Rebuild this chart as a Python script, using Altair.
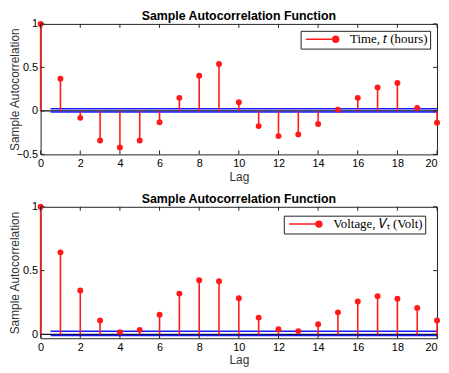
import altair as alt
import pandas as pd

# ---- data ----
lags = list(range(21))
acf_time = [1.0, 0.37, -0.08, -0.34, -0.42, -0.34, -0.13, 0.15, 0.405, 0.54, 0.10,
            -0.175, -0.29, -0.27, -0.15, 0.015, 0.15, 0.27, 0.32, 0.035, -0.135]
acf_volt = [1.0, 0.643, 0.344, 0.109, 0.018, 0.036, 0.155, 0.32, 0.424, 0.416, 0.284,
            0.132, 0.041, 0.026, 0.08, 0.173, 0.258, 0.30, 0.279, 0.207, 0.109]
x_ticks = [0, 2, 4, 6, 8, 10, 12, 14, 16, 18, 20]
y_ticks_time = [-0.5, 0, 0.5, 1]
y_ticks_volt = [0, 0.5, 1]
y_domain_time = [-0.5, 1]
y_domain_volt = [-0.03, 1]
bounds_time = [0.025, -0.012]
bounds_volt = [0.025, -0.008]
bound_start = 0.5
labels = ["Time, \U0001D461 (hours)", "Voltage, \U0001D449\u209C (Volt)"]
title_text = "Sample Autocorrelation Function"

RED = "#ff1a1a"
BLUE = "#1a1aff"
W = 401
H1 = 132
H2 = 133

# legend glyph: a line ending in a dot (unit = sqrt(size)/2 px)
LEGEND_PATH = ("M-1,0L6,0M7.25,0A0.75,0.75,0,1,1,5.75,0A0.75,0.75,0,1,1,7.25,0Z")


def panel(vals, ydom, yticks, bounds, label, H, lx, ly):
    df = pd.DataFrame({"lag": lags, "acf": vals, "series": label})
    xs = alt.Scale(domain=[0, 20], nice=False, zero=False)
    ys = alt.Scale(domain=ydom, nice=False, zero=False)
    xenc = alt.X("lag:Q", scale=xs,
                 axis=alt.Axis(values=x_ticks, title="Lag", format="d",
                               labelAlign={"condition": {"test": "datum.value == 20",
                                                         "value": "right"},
                                           "value": "center"}))
    yenc = alt.Y("acf:Q", scale=ys,
                 axis=alt.Axis(values=yticks, title="Sample Autocorrelation", format="~g",
                               titleX=-19, titleY=H / 2, titleBaseline="bottom",
                               titleAngle=270, titleAlign="center"))

    stems = alt.Chart(df).mark_rule(color=RED, strokeWidth=1.6).encode(
        x=xenc, y=yenc, y2=alt.datum(0))

    zero = alt.Chart(pd.DataFrame({"z": [0]})).mark_rule(color="#111", strokeWidth=1.2).encode(
        y=alt.Y("z:Q"), x=alt.datum(0), x2=alt.datum(20))

    bdf = pd.DataFrame({"b": bounds})
    blue = alt.Chart(bdf).mark_rule(color=BLUE, strokeWidth=1.6).encode(
        y=alt.Y("b:Q"), x=alt.datum(bound_start), x2=alt.datum(20))

    dots = alt.Chart(df).mark_circle(size=36, opacity=1).encode(
        x="lag:Q", y="acf:Q",
        color=alt.Color("series:N",
                        scale=alt.Scale(domain=[label], range=[RED]),
                        legend=alt.Legend(
                            title=None, orient="none", legendX=lx, legendY=ly,
                            symbolType=LEGEND_PATH, symbolSize=64,
                            symbolStrokeColor=RED, symbolFillColor=RED,
                            symbolStrokeWidth=1.5, symbolOffset=1,
                            labelFont="Liberation Serif", labelFontSize=13,
                            labelColor="black", labelLimit=300,
                            strokeColor="#222", fillColor="white",
                            padding=2, labelOffset=34)))

    xt = pd.DataFrame({"t": x_ticks})
    yt = pd.DataFrame({"t": yticks})
    tick_b = alt.Chart(xt).mark_rule(color="#222").encode(
        x="t:Q", y=alt.value(H), y2=alt.value(H - 4))
    tick_t = alt.Chart(xt).mark_rule(color="#222").encode(
        x="t:Q", y=alt.value(0), y2=alt.value(4))
    tick_l = alt.Chart(yt).mark_rule(color="#222").encode(
        y="t:Q", x=alt.value(0), x2=alt.value(4))
    tick_r = alt.Chart(yt).mark_rule(color="#222").encode(
        y="t:Q", x=alt.value(W), x2=alt.value(W - 4))

    return alt.layer(zero, blue, stems, dots, tick_b, tick_t, tick_l, tick_r).properties(
        width=W, height=H,
        title=alt.TitleParams(title_text, font="Liberation Sans", fontSize=12.5,
                              fontWeight="bold", offset=-5, anchor="middle",
                              frame="group", color="black"))


top = panel(acf_time, y_domain_time, y_ticks_time, bounds_time, labels[0], H1, 263, 7)
bottom = panel(acf_volt, y_domain_volt, y_ticks_volt, bounds_volt, labels[1], H2, 246, 9)

chart = alt.vconcat(top, bottom, spacing=10).resolve_scale(
    color="independent").resolve_legend(color="independent").properties(
    padding=0, background="white"
).configure_view(stroke="#222", strokeWidth=1).configure_axis(
    grid=False, ticks=False, domain=False,
    labelFont="Liberation Sans", labelFontSize=11, labelColor="black", labelPadding=3,
    titleFont="Liberation Sans", titleFontSize=12, titleFontWeight="normal",
    titleColor="#333", titlePadding=3
)

chart.save("out.html", embed_options={"renderer": "svg", "actions": False})
